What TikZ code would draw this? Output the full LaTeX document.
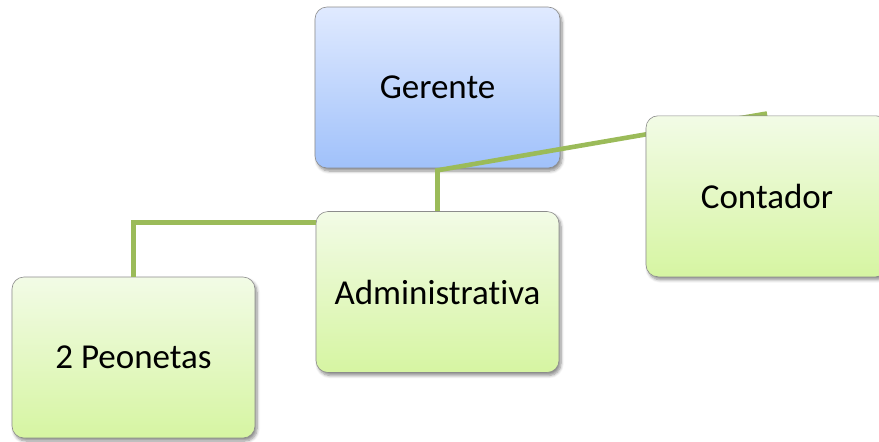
\documentclass[tikz,border=0pt]{standalone}
\usepackage{fontspec}
\setmainfont[Ligatures=NoCommon]{Carlito}
\usetikzlibrary{shadows.blur}
\definecolor{lnk}{HTML}{9BBB59}
\definecolor{gtop}{RGB}{242,251,230}
\definecolor{gbot}{RGB}{214,245,162}
\definecolor{btop}{RGB}{224,234,255}
\definecolor{bbot}{RGB}{160,193,250}
\tikzset{
  orgbox/.style={rounded corners=12pt, minimum width=243pt, minimum height=161pt,
    draw=black!45, line width=0.6pt, font=\fontsize{35}{40}\selectfont, inner sep=0pt,
    blur shadow={shadow xshift=2pt, shadow yshift=-3pt, shadow blur steps=6, shadow blur radius=3pt, shadow opacity=45}},
  greenbox/.style={orgbox, top color=gtop, bottom color=gbot},
  bluebox/.style={orgbox, top color=btop, bottom color=bbot},
  link/.style={draw=lnk, line width=4.6pt, line join=miter}
}
\begin{document}
\begin{tikzpicture}[x=1pt,y=-1pt]
\useasboundingbox (0,0) rectangle (879,442);
\clip (0,0) rectangle (879,442);
\node[bluebox, minimum width=245pt] (ger) at (437.5,87.5) {Gerente};
\node[greenbox] (adm) at (437.5,292) {Administrativa};
\node[greenbox] (peo) at (133.5,357.5) {2 Peonetas};
\coordinate (jn) at ([yshift=-2pt]ger.south);
\coordinate (lft) at ([yshift=-11pt]adm.north west);
\coordinate (cn) at (767,113.5);
\draw[link] (adm.north) -- (jn) -- (cn);
\draw[link] (lft) -| (peo.north);
\node[greenbox, minimum width=242pt, anchor=north] (con) at ([yshift=-2pt]cn) {Contador};
\end{tikzpicture}
\end{document}
